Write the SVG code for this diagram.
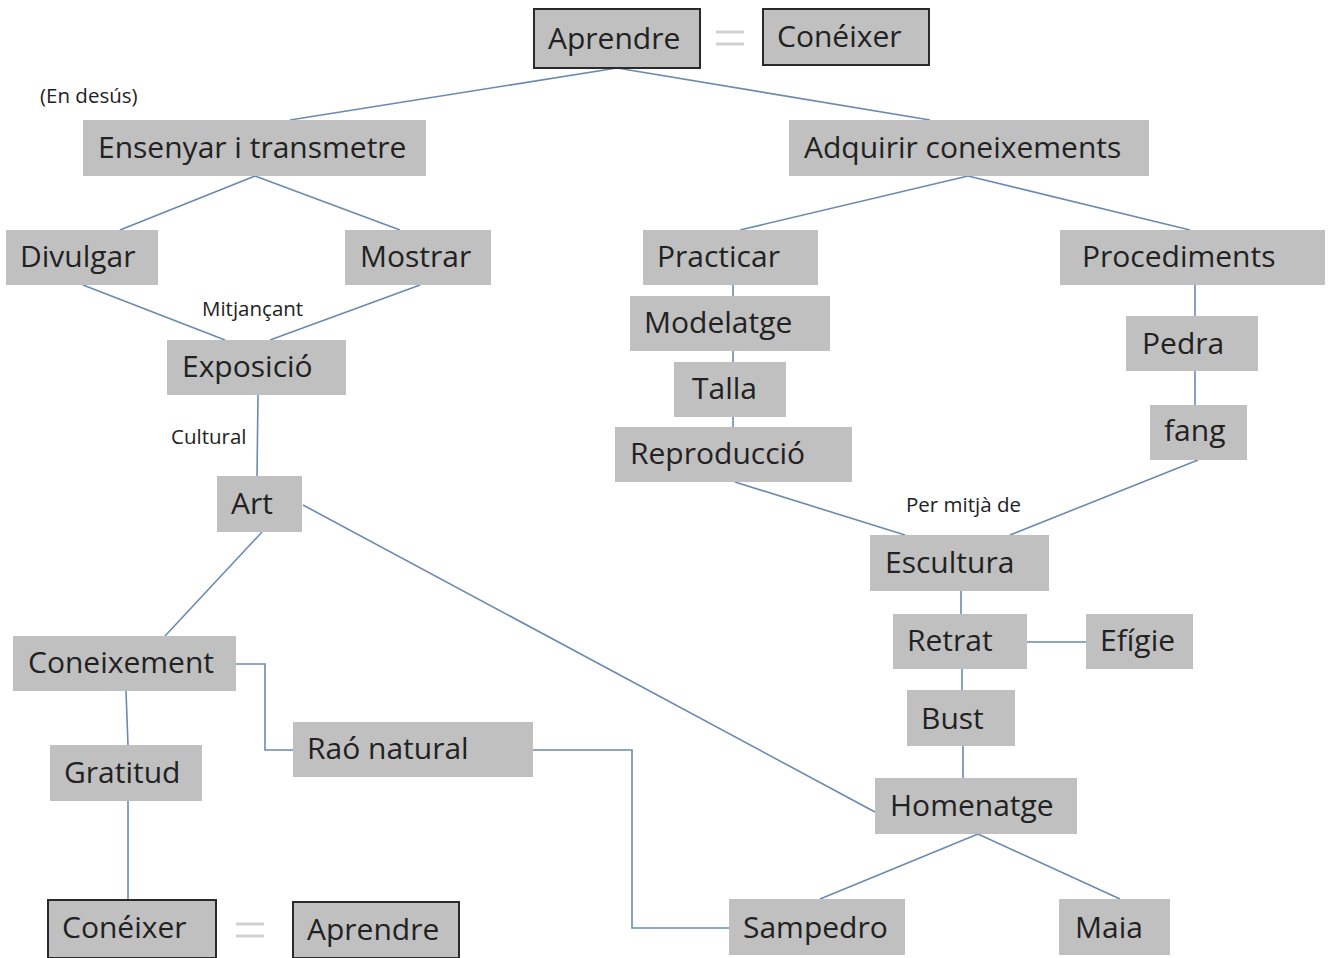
<svg xmlns="http://www.w3.org/2000/svg" width="1329" height="958" viewBox="0 0 1329 958">
<style>
.b{fill:#c0c0c0}
.k{fill:#c0c0c0;stroke:#2a2a2a;stroke-width:2}
.t{font-family:"Open Sans","Noto Sans",sans-serif;font-size:30px;fill:#222}
.s{font-family:"Open Sans","Noto Sans",sans-serif;font-size:20.5px;fill:#222}
.eq{stroke:#d0d0d0;stroke-width:3}
#connectors path,#connectors line{stroke:#6a8ab0;stroke-width:1.6;fill:none}
</style>
<rect width="1329" height="958" fill="#fff"/>
<g id="connectors">
<line x1="617" y1="68" x2="290" y2="120"/>
<line x1="617" y1="68" x2="930" y2="120"/>
<line x1="255" y1="176" x2="120" y2="230"/>
<line x1="255" y1="176" x2="400" y2="230"/>
<line x1="83" y1="285" x2="225" y2="340"/>
<line x1="420" y1="285" x2="270" y2="340"/>
<line x1="258" y1="395" x2="257" y2="476"/>
<line x1="262" y1="532" x2="165" y2="636"/>
<line x1="303" y1="505" x2="875" y2="812"/>
<path d="M236 664H265V750H293"/>
<line x1="126" y1="691" x2="128" y2="745"/>
<line x1="128" y1="801" x2="128" y2="900"/>
<path d="M533 750H632V928H729"/>
<line x1="968" y1="176" x2="740" y2="230"/>
<line x1="968" y1="176" x2="1190" y2="230"/>
<line x1="733" y1="285" x2="733" y2="296"/>
<line x1="733" y1="351" x2="733" y2="362"/>
<line x1="733" y1="417" x2="733" y2="427"/>
<line x1="1195" y1="285" x2="1195" y2="316"/>
<line x1="1195" y1="371" x2="1195" y2="405"/>
<line x1="735" y1="482" x2="905" y2="535"/>
<line x1="1198" y1="460" x2="1010" y2="535"/>
<line x1="961" y1="591" x2="961" y2="614"/>
<line x1="1027" y1="642" x2="1086" y2="642"/>
<line x1="962" y1="669" x2="962" y2="690"/>
<line x1="963" y1="746" x2="963" y2="778"/>
<line x1="978" y1="834" x2="820" y2="899"/>
<line x1="978" y1="834" x2="1120" y2="899"/>
</g>
<g id="eq-top"><line class="eq" x1="716" y1="32" x2="744" y2="32"/><line class="eq" x1="716" y1="44" x2="744" y2="44"/></g>
<g id="eq-bottom"><line class="eq" x1="236" y1="924" x2="264" y2="924"/><line class="eq" x1="236" y1="936" x2="264" y2="936"/></g>
<g id="n-aprendre-top"><rect class="k" x="534" y="9" width="166" height="59"/><text class="t" x="548" y="49">Aprendre</text></g>
<g id="n-coneixer-top"><rect class="k" x="763" y="9" width="166" height="56"/><text class="t" x="777" y="47">Conéixer</text></g>
<g id="l-endesus"><text class="s" x="40" y="103">(En desús)</text></g>
<g id="n-ensenyar"><rect class="b" x="83" y="120" width="343" height="56"/><text class="t" x="98" y="158">Ensenyar i transmetre</text></g>
<g id="n-adquirir"><rect class="b" x="789" y="120" width="360" height="56"/><text class="t" x="804" y="158">Adquirir coneixements</text></g>
<g id="n-divulgar"><rect class="b" x="6" y="230" width="152" height="55"/><text class="t" x="20" y="267">Divulgar</text></g>
<g id="n-mostrar"><rect class="b" x="345" y="230" width="146" height="55"/><text class="t" x="360" y="267">Mostrar</text></g>
<g id="l-mitjancant"><text class="s" x="202" y="316">Mitjançant</text></g>
<g id="n-exposicio"><rect class="b" x="167" y="340" width="179" height="55"/><text class="t" x="182" y="377">Exposició</text></g>
<g id="l-cultural"><text class="s" x="171" y="444">Cultural</text></g>
<g id="n-art"><rect class="b" x="217" y="476" width="85" height="56"/><text class="t" x="231" y="514">Art</text></g>
<g id="n-coneixement"><rect class="b" x="13" y="636" width="223" height="55"/><text class="t" x="28" y="673">Coneixement</text></g>
<g id="n-gratitud"><rect class="b" x="50" y="745" width="152" height="56"/><text class="t" x="64" y="783">Gratitud</text></g>
<g id="n-rao"><rect class="b" x="293" y="722" width="240" height="55"/><text class="t" x="307" y="759">Raó natural</text></g>
<g id="n-coneixer-bottom"><rect class="k" x="48" y="900" width="168" height="58"/><text class="t" x="62" y="938">Conéixer</text></g>
<g id="n-aprendre-bottom"><rect class="k" x="293" y="902" width="166" height="56"/><text class="t" x="307" y="940">Aprendre</text></g>
<g id="n-practicar"><rect class="b" x="643" y="230" width="175" height="55"/><text class="t" x="657" y="267">Practicar</text></g>
<g id="n-modelatge"><rect class="b" x="630" y="296" width="200" height="55"/><text class="t" x="644" y="333">Modelatge</text></g>
<g id="n-talla"><rect class="b" x="674" y="362" width="112" height="55"/><text class="t" x="692" y="399">Talla</text></g>
<g id="n-reproduccio"><rect class="b" x="615" y="427" width="237" height="55"/><text class="t" x="630" y="464">Reproducció</text></g>
<g id="n-procediments"><rect class="b" x="1060" y="230" width="265" height="55"/><text class="t" x="1082" y="267">Procediments</text></g>
<g id="n-pedra"><rect class="b" x="1126" y="316" width="132" height="55"/><text class="t" x="1142" y="354">Pedra</text></g>
<g id="n-fang"><rect class="b" x="1150" y="405" width="97" height="55"/><text class="t" x="1164" y="441">fang</text></g>
<g id="l-permitja"><text class="s" x="906" y="512">Per mitjà de</text></g>
<g id="n-escultura"><rect class="b" x="870" y="535" width="179" height="56"/><text class="t" x="885" y="573">Escultura</text></g>
<g id="n-retrat"><rect class="b" x="893" y="614" width="134" height="55"/><text class="t" x="907" y="651">Retrat</text></g>
<g id="n-efigie"><rect class="b" x="1086" y="614" width="107" height="55"/><text class="t" x="1100" y="651">Efígie</text></g>
<g id="n-bust"><rect class="b" x="907" y="690" width="108" height="56"/><text class="t" x="921" y="729">Bust</text></g>
<g id="n-homenatge"><rect class="b" x="875" y="778" width="202" height="56"/><text class="t" x="890" y="816">Homenatge</text></g>
<g id="n-sampedro"><rect class="b" x="729" y="899" width="176" height="56"/><text class="t" x="743" y="938">Sampedro</text></g>
<g id="n-maia"><rect class="b" x="1059" y="899" width="111" height="56"/><text class="t" x="1075" y="938">Maia</text></g>
</svg>
